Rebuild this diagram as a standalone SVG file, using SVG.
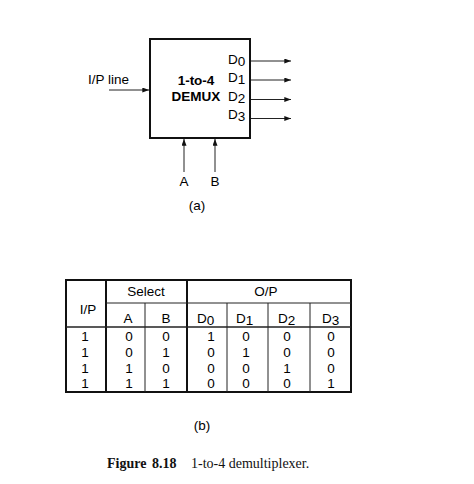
<svg xmlns="http://www.w3.org/2000/svg" width="474" height="484" viewBox="0 0 474 484">
<style>
.s{font-family:"Liberation Sans",Arial,sans-serif;font-size:13.5px;fill:#000}
.b{font-weight:bold}
.m{text-anchor:middle}
.ln{stroke:#222;stroke-width:1;fill:none}
.tk{stroke:#111;stroke-width:2;fill:none}
.cap{font-family:"Liberation Serif","Times New Roman",serif;font-size:14px;fill:#111}
</style>
<defs>
<marker id="ah" viewBox="0 0 8 6" refX="8" refY="3" markerWidth="7" markerHeight="5" markerUnits="userSpaceOnUse" orient="auto">
<path d="M0,0 L8,3 L0,6 Z" fill="#111"/>
</marker>
</defs>
<rect width="474" height="484" fill="#fff"/>

<g id="demux">
<rect x="150" y="39" width="100" height="99" class="tk"/>
<text x="196" y="85" class="s b m">1-to-4</text>
<text x="196" y="101" class="s b m">DEMUX</text>
<text x="228" y="64" class="s">D<tspan dy="2">0</tspan></text>
<text x="228" y="82" class="s">D<tspan dy="2">1</tspan></text>
<text x="228" y="101" class="s">D<tspan dy="2">2</tspan></text>
<text x="228" y="119" class="s">D<tspan dy="2">3</tspan></text>
</g>

<g id="labels">
<text x="88" y="84" class="s">I/P line</text>
<text x="184" y="186" class="s m">A</text>
<text x="215" y="186" class="s m">B</text>
<text x="197" y="210" class="s m">(a)</text>
</g>

<g id="connectors">
<line x1="109" y1="90" x2="149" y2="90" class="ln" marker-end="url(#ah)"/>
<line x1="251" y1="61" x2="291" y2="61" class="ln" marker-end="url(#ah)"/>
<line x1="251" y1="80" x2="291" y2="80" class="ln" marker-end="url(#ah)"/>
<line x1="251" y1="99.5" x2="291" y2="99.5" class="ln" marker-end="url(#ah)"/>
<line x1="251" y1="118.5" x2="291" y2="118.5" class="ln" marker-end="url(#ah)"/>
<line x1="184" y1="172" x2="184" y2="139" class="ln" marker-end="url(#ah)"/>
<line x1="215" y1="172" x2="215" y2="139" class="ln" marker-end="url(#ah)"/>
</g>

<g id="table">
<rect x="66" y="280" width="285" height="112" class="tk"/>
<line x1="106" y1="280" x2="106" y2="392" class="tk"/>
<line x1="187" y1="280" x2="187" y2="392" class="tk"/>
<line x1="106" y1="303" x2="351" y2="303" class="ln"/>
<line x1="66" y1="327" x2="351" y2="327" class="ln" style="stroke-width:1.5"/>
<line x1="145" y1="303" x2="145" y2="392" class="ln"/>
<line x1="227" y1="303" x2="227" y2="392" class="ln"/>
<line x1="268" y1="303" x2="268" y2="392" class="ln"/>
<line x1="310" y1="303" x2="310" y2="392" class="ln"/>

<text x="88" y="314" class="s m">I/P</text>
<text x="146" y="296" class="s m">Select</text>
<text x="266" y="296" class="s m">O/P</text>
<text x="128" y="323" class="s m">A</text>
<text x="166" y="323" class="s m">B</text>
<text x="197" y="323" class="s">D<tspan dy="2">0</tspan></text>
<text x="236" y="323" class="s">D<tspan dy="2">1</tspan></text>
<text x="278" y="323" class="s">D<tspan dy="2">2</tspan></text>
<text x="322" y="323" class="s">D<tspan dy="2">3</tspan></text>

<g class="s m">
<text x="85" y="341">1</text><text x="129" y="341">0</text><text x="166" y="341">0</text><text x="211" y="341">1</text><text x="246" y="341">0</text><text x="287" y="341">0</text><text x="331" y="341">0</text>
<text x="85" y="357">1</text><text x="129" y="357">0</text><text x="166" y="357">1</text><text x="211" y="357">0</text><text x="246" y="357">1</text><text x="287" y="357">0</text><text x="331" y="357">0</text>
<text x="85" y="373">1</text><text x="129" y="373">1</text><text x="166" y="373">0</text><text x="211" y="373">0</text><text x="246" y="373">0</text><text x="287" y="373">1</text><text x="331" y="373">0</text>
<text x="85" y="388">1</text><text x="129" y="388">1</text><text x="166" y="388">1</text><text x="211" y="388">0</text><text x="246" y="388">0</text><text x="287" y="388">0</text><text x="331" y="388">1</text>
</g>
<text x="202" y="430" class="s m">(b)</text>
</g>

<g id="caption">
<text x="107" y="468" class="cap b">Figure</text>
<text x="152" y="468" class="cap b">8.18</text>
<text x="191" y="468" class="cap">1-to-4 demultiplexer.</text>
</g>
</svg>
